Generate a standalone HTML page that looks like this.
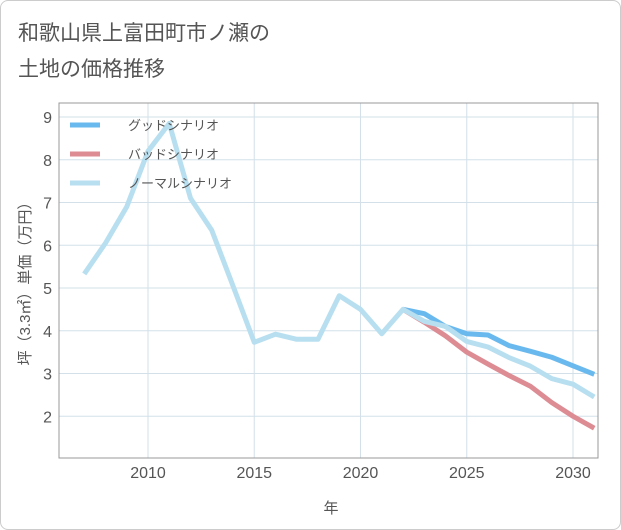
<!DOCTYPE html>
<html><head><meta charset="utf-8"><style>
body{margin:0;background:#fff}
.card{position:absolute;left:0;top:0;width:619px;height:528px;border:1px solid #ccc;border-radius:8px;background:#fff}
text{font-family:"Liberation Sans","Noto Sans CJK JP",sans-serif}
</style></head><body>
<div class="card"></div>
<svg id="c" width="621" height="530" style="position:absolute;left:0;top:0">
<text x="18" y="40" font-size="21" fill="#555">和歌山県上富田町市ノ瀬の</text>
<text x="18" y="76" font-size="21" fill="#555">土地の価格推移</text>
<g id="grid"></g><g id="axes"></g><g id="lines"></g>
<rect x="59" y="103" width="539" height="355" fill="none" stroke="#999" stroke-width="1"/>
<g>
<line x1="70" y1="125" x2="100" y2="125" stroke="#6ab9ee" stroke-width="5"/>
<text x="128" y="130" font-size="13" fill="#555">グッドシナリオ</text>
<line x1="70" y1="154" x2="100" y2="154" stroke="#dd8c94" stroke-width="5"/>
<text x="128" y="159" font-size="13" fill="#555">バッドシナリオ</text>
<line x1="70" y1="183" x2="100" y2="183" stroke="#b8dff0" stroke-width="5"/>
<text x="128" y="188" font-size="13" fill="#555">ノーマルシナリオ</text>
</g>
<text x="331" y="513" font-size="15" fill="#555" text-anchor="middle">年</text>
<text transform="translate(30,280) rotate(-90)" font-size="15" fill="#555" text-anchor="middle">坪（3.3㎡）単価（万円）</text>
</svg>
<script>
const normalYears=[2007,2008,2009,2010,2011,2012,2013,2014,2015,2016,2017,2018,2019,2020,2021,2022,2023,2024,2025,2026,2027,2028,2029,2030,2031];
const normalValues=[5.33,6.05,6.9,8.2,8.85,7.1,6.35,5.05,3.73,3.92,3.8,3.8,4.82,4.5,3.93,4.5,4.22,4.1,3.75,3.62,3.37,3.17,2.88,2.75,2.45];
const scenarioYears=[2022,2023,2024,2025,2026,2027,2028,2029,2030,2031];
const goodValues=[4.5,4.4,4.1,3.93,3.9,3.65,3.52,3.38,3.18,2.98];
const badValues=[4.5,4.2,3.88,3.5,3.22,2.95,2.7,2.32,2.0,1.72];
const xTicks=[2010,2015,2020,2025,2030];
const yTicks=[2,3,4,5,6,7,8,9];
const NS="http://www.w3.org/2000/svg";
const X=y=>148+(y-2010)*21.25;
const Y=v=>459-(v-1)*42.75;
function mk(t,a,p){const e=document.createElementNS(NS,t);for(const k in a)e.setAttribute(k,a[k]);p.appendChild(e);return e;}
const g=document.getElementById('grid'),ax=document.getElementById('axes'),ln=document.getElementById('lines');
yTicks.forEach(v=>{
 const l=mk('line',{x1:59,x2:598,y1:Y(v),y2:Y(v),stroke:'#d3e0ea','stroke-width':1},g);
 
 
 const t=mk('text',{x:52,y:Y(v)+6,'font-size':16,fill:'#555','text-anchor':'end'},ax);
 t.textContent=v;
 
 
});
xTicks.forEach(v=>{
 const l=mk('line',{x1:X(v),x2:X(v),y1:103,y2:458,stroke:'#d3e0ea','stroke-width':1},g);
 
 
 const t=mk('text',{x:X(v),y:478,'font-size':16,fill:'#555','text-anchor':'middle'},ax);
 t.textContent=v;
 
 
});
function series(xs,vs,color,name){
 const p=mk('polyline',{points:xs.map((y,i)=>X(y)+','+Y(vs[i])).join(' '),fill:'none',stroke:color,'stroke-width':5,'stroke-linejoin':'round'},ln);
 
 
}
series(scenarioYears,goodValues,'#6ab9ee','good-scenario-line');
series(scenarioYears,badValues,'#dd8c94','bad-scenario-line');
series(normalYears,normalValues,'#b8dff0','normal-scenario-line');
</script>
</body></html>
